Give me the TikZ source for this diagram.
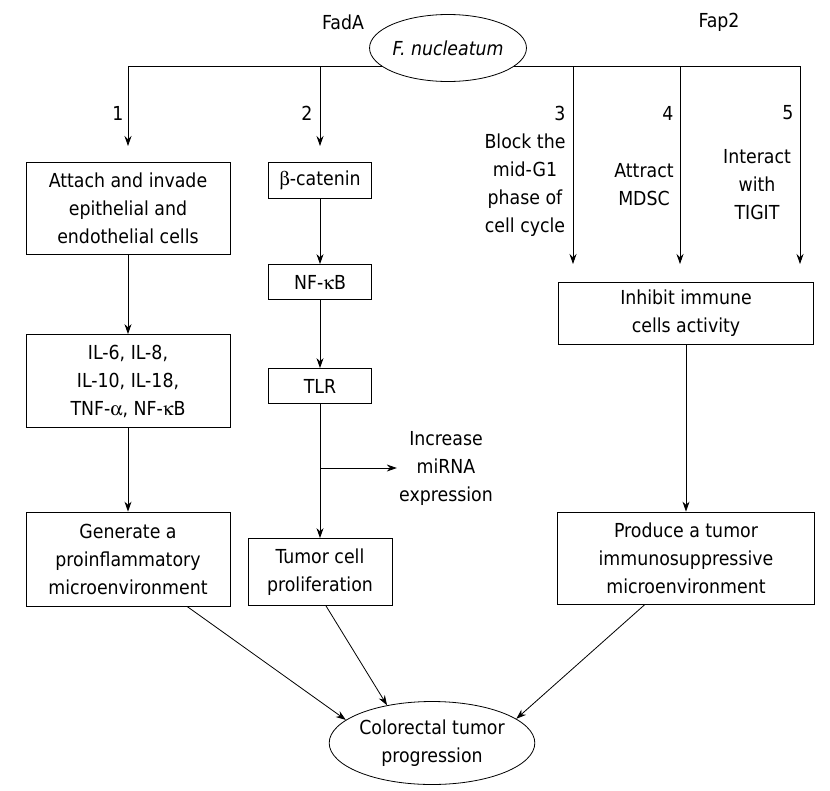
\documentclass[tikz,border=0pt]{standalone}
\usepackage{fontspec}
\setmainfont{DejaVu Sans Condensed}
\usepackage[Symbol]{upgreek}
\usepackage{tikz}
\usetikzlibrary{arrows.meta,shapes,positioning}
\tikzstyle{arrow} = [->,>={Stealth[length=10pt,width=7pt]}]
\tikzstyle{pathbox} = [rectangle, draw, text centered, align=center, inner sep=0pt]
\tikzstyle{oval} = [ellipse, draw, fill=white, align=center, inner sep=0pt]
\tikzstyle{tag} = [align=center, inner sep=0pt]

\begin{document}
\begin{tikzpicture}[x=1pt, y=-1pt, line width=0.8pt, font={\fontsize{19.3}{28}\selectfont}]
\useasboundingbox (0,0) rectangle (830,790);

% Bacterium and branches
\coordinate (t1) at (128,66);
\coordinate (t2) at (320,66);
\coordinate (t3) at (573,66);
\coordinate (t4) at (680,66);
\coordinate (t5) at (800,66);
\draw (t1) -- (t5);
\node[oval, minimum width=145, minimum height=67] (fnuc) at (448,48) {\textit{F. nucleatum}};
\node[tag] (fada) at (343,22) {FadA};
\node[tag] (fap2) at (719,22) {Fap2};

% Numbers
\node[tag] (num1) at (118,113) {1};
\node[tag] (num2) at (307,113) {2};
\node[tag] (num3) at (560,113) {3};
\node[tag] (num4) at (668,113) {4};
\node[tag] (num5) at (788,113) {5};

% Branch ends
\coordinate (e1) at (128,146);
\coordinate (e2) at (320,146);
\coordinate (e3) at (573,264);
\coordinate (e4) at (680,264);
\coordinate (e5) at (800,264);
\draw[arrow] (t1) -- (e1);
\draw[arrow] (t2) -- (e2);
\draw[arrow] (t3) -- (e3);
\draw[arrow] (t4) -- (e4);
\draw[arrow] (t5) -- (e5);

% Side texts
\node[tag] (block) at (525,185) {Block the\\mid-G1\\phase of\\cell cycle};
\node[tag] (mdsc) at (644,185) {Attract\\MDSC};
\node[tag] (tigit) at (757,185) {Interact\\with\\TIGIT};

% Pathway 1
\node[pathbox, minimum width=204, minimum height=92] (attach) at (128,208) {Attach and invade\\epithelial and\\endothelial cells};
\node[pathbox, minimum width=204, minimum height=93] (cyto) at (128,381) {IL-6, IL-8,\\IL-10, IL-18,\\TNF-$\upalpha$, NF-$\upkappa$B};
\node[pathbox, minimum width=204, minimum height=94] (inflam) at (128,559) {Generate a\\proinflammatory\\microenvironment};

% Pathway 2
\node[pathbox, minimum width=103, minimum height=36] (bcat) at (320,180) {$\upbeta$-catenin};
\node[pathbox, minimum width=103, minimum height=35] (nfkb) at (320,282) {NF-$\upkappa$B};
\node[pathbox, minimum width=103, minimum height=35] (tlr) at (320,386) {TLR};
\node[pathbox, minimum width=144, minimum height=67] (prolif) at (320,572) {Tumor cell\\proliferation};
\node[tag, inner sep=2pt] (mirna) at (446,468) {Increase\\miRNA\\expression};

% Pathways 3-5
\node[pathbox, minimum width=255, minimum height=62] (inhibit) at (686,313) {Inhibit immune\\cells activity};
\node[pathbox, minimum width=257, minimum height=92] (suppr) at (686,558) {Produce a tumor\\immunosuppressive\\microenvironment};

% Outcome
\node[oval, minimum width=198, minimum height=83] (crc) at (432,743) {Colorectal tumor\\progression};

% Arrows
\draw[arrow] (attach) -- (cyto);
\draw[arrow] (cyto) -- (inflam);
\draw[arrow] (bcat) -- (nfkb);
\draw[arrow] (nfkb) -- (tlr);
\draw[arrow] (tlr) -- (prolif);
\coordinate (split) at (320,468);
\draw[arrow] (split) -- (mirna.west);
\draw[arrow] (inhibit.south) -- (suppr.north);
\draw[arrow] ([xshift=59]inflam.south) -- (crc.165);
\draw[arrow] ([xshift=6]prolif.south) -- (crc.140);
\draw[arrow] ([xshift=-41]suppr.south) -- (crc.16);
\end{tikzpicture}
\end{document}
